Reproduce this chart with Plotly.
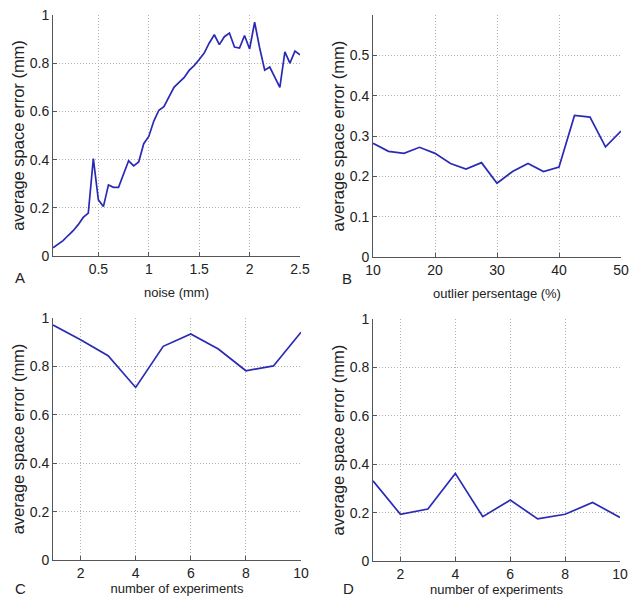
import plotly.graph_objects as go

# ---- Data ----
noise_mm = [0.05, 0.10, 0.15, 0.20, 0.25, 0.30, 0.35, 0.40, 0.45, 0.50,
            0.55, 0.60, 0.65, 0.70, 0.75, 0.80, 0.85, 0.90, 0.95, 1.00,
            1.05, 1.10, 1.15, 1.20, 1.25, 1.30, 1.35, 1.40, 1.45, 1.50,
            1.55, 1.60, 1.65, 1.70, 1.75, 1.80, 1.85, 1.90, 1.95, 2.00,
            2.05, 2.10, 2.15, 2.20, 2.25, 2.30, 2.35, 2.40, 2.45, 2.50]
err_noise = [0.034, 0.048, 0.064, 0.085, 0.105, 0.130, 0.160, 0.178, 0.404, 0.233,
             0.205, 0.295, 0.285, 0.285, 0.342, 0.395, 0.374, 0.390, 0.466, 0.496,
             0.560, 0.605, 0.620, 0.657, 0.700, 0.720, 0.740, 0.770, 0.790, 0.815,
             0.842, 0.884, 0.918, 0.877, 0.910, 0.925, 0.867, 0.863, 0.915, 0.859,
             0.970, 0.863, 0.771, 0.784, 0.740, 0.700, 0.847, 0.800, 0.850, 0.835]

outlier_pct = [10, 12.5, 15, 17.5, 20, 22.5, 25, 27.5, 30, 32.5,
               35, 37.5, 40, 42.5, 45, 47.5, 50]
err_outlier = [0.282, 0.262, 0.257, 0.272, 0.257, 0.232, 0.218, 0.234, 0.183, 0.212,
               0.232, 0.212, 0.223, 0.351, 0.347, 0.273, 0.312]

n_experiments = [1, 2, 3, 4, 5, 6, 7, 8, 9, 10]
err_exp_c = [0.971, 0.910, 0.844, 0.713, 0.883, 0.934, 0.872, 0.782, 0.802, 0.941]
err_exp_d = [0.331, 0.193, 0.215, 0.362, 0.183, 0.252, 0.174, 0.193, 0.242, 0.180]

xticks_a = [0.5, 1, 1.5, 2, 2.5]
xticks_b = [10, 20, 30, 40, 50]
xticks_cd = [2, 4, 6, 8, 10]
yticks_01 = [0, 0.2, 0.4, 0.6, 0.8, 1]
yticks_b = [0, 0.1, 0.2, 0.3, 0.4, 0.5]

panel_letters = ["A", "B", "C", "D"]
x_titles = ["noise (mm)", "outlier persentage (%)",
            "number of experiments", "number of experiments"]
y_title = "average space error (mm)"

# ---- Styling ----
W, H = 630, 597
LINE = "#2a2ab4"
FAM = "Liberation Sans, Arial, sans-serif"
TICKFONT = dict(family=FAM, size=14, color="#222222")
XTITLEFONT = dict(family=FAM, size=13, color="#222222")
YTITLEFONT = dict(family=FAM, size=16.5, color="#222222")

def px_x(p):
    return p / W

def px_y(p):
    return 1 - p / H

# plot-area pixel boxes (left, right, top, bottom)
boxes = [(53, 300, 15, 256), (373, 621, 15, 257),
         (53, 301, 318, 560), (373, 620, 319, 561)]

fig = go.Figure()
series = [(noise_mm, err_noise), (outlier_pct, err_outlier),
          (n_experiments, err_exp_c), (n_experiments, err_exp_d)]
for i, (xs, ys) in enumerate(series):
    fig.add_trace(go.Scatter(x=xs, y=ys, mode="lines",
                             line=dict(color=LINE, width=1.7),
                             xaxis="x" if i == 0 else f"x{i+1}",
                             yaxis="y" if i == 0 else f"y{i+1}",
                             showlegend=False, hoverinfo="x+y"))

xranges = [[0.05, 2.5], [10, 50], [1, 10], [1, 10]]
yranges = [[0, 1], [0, 0.6], [0, 1], [0, 1]]
xtickss = [xticks_a, xticks_b, xticks_cd, xticks_cd]
ytickss = [yticks_01, yticks_b, yticks_01, yticks_01]
xstand = [12, 12, 2, 2]

layout = dict(width=W, height=H, margin=dict(l=0, r=0, t=0, b=0),
              paper_bgcolor="white", plot_bgcolor="white", showlegend=False)

common_axis = dict(showline=True, linecolor="#555555", linewidth=1,
                   showgrid=True, gridcolor="#b0b0b0", griddash="1px,2px", gridwidth=1,
                   zeroline=False, ticks="inside", ticklen=4, tickcolor="#555555",
                   tickfont=TICKFONT, automargin=False, fixedrange=True)

for i in range(4):
    l, r, t, b = boxes[i]
    sx = "" if i == 0 else str(i + 1)
    layout[f"xaxis{sx}"] = dict(common_axis, domain=[px_x(l), px_x(r)],
                                range=xranges[i], tickvals=xtickss[i],
                                anchor=f"y{sx}",
                                title=dict(text=x_titles[i], font=XTITLEFONT,
                                           standoff=xstand[i]))
    layout[f"yaxis{sx}"] = dict(common_axis, domain=[px_y(b), px_y(t)],
                                range=yranges[i], tickvals=ytickss[i],
                                anchor=f"x{sx}",
                                title=dict(text=y_title, font=YTITLEFONT, standoff=0))

fig.update_layout(**layout)

letter_pos = [(20, 277), (347, 278), (20, 588), (348, 588)]
for letter, (lx, ly) in zip(panel_letters, letter_pos):
    fig.add_annotation(text=letter, x=px_x(lx), y=px_y(ly), xref="paper", yref="paper",
                       showarrow=False, xanchor="center", yanchor="middle",
                       font=dict(family=FAM, size=15, color="#222222"))

fig.write_html("out.html", config={"displayModeBar": False},
               post_script="document.body.style.margin='0';document.body.style.padding='0';")
